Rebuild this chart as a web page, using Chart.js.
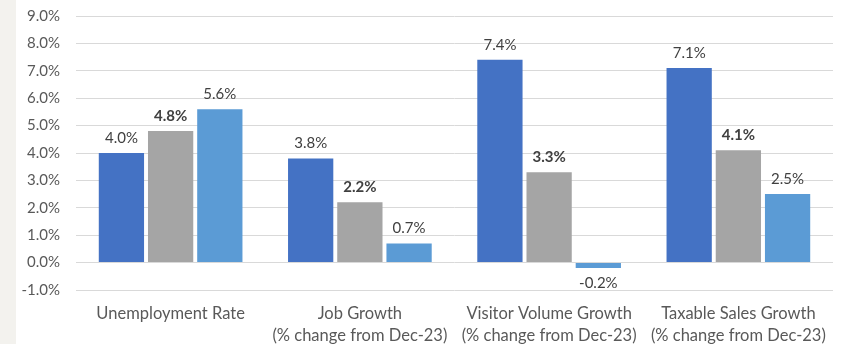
<!DOCTYPE html>
<html>
<head>
<meta charset="utf-8">
<script src="https://cdn.jsdelivr.net/npm/chart.js@4/dist/chart.umd.min.js"></script>
<style>
    body{ margin:0; background:#fff; }
    .wrap{ position:relative; width:842px; height:344px; }
    .strip{ position:absolute; left:0; top:0; width:16px; height:344px; background:#F3F2EE; }
    canvas{ position:absolute; left:0; top:0; }
</style>
</head>
<body>
<div class="wrap">
    <div class="strip"></div>
    <canvas id="myChart" width="842" height="344"></canvas>
</div>
<script>
const categories = [
    ["Unemployment Rate"],
    ["Job Growth", "(% change from Dec-23)"],
    ["Visitor Volume Growth", "(% change from Dec-23)"],
    ["Taxable Sales Growth", "(% change from Dec-23)"]
];
const seriesA = [4.0, 3.8, 7.4, 7.1];
const seriesB = [4.8, 2.2, 3.3, 4.1];
const seriesC = [5.6, 0.7, -0.2, 2.5];
const yMin = -1, yMax = 9, yStep = 1;

const fontName = "Lato, 'Open Sans', sans-serif";

// draws the value labels above (or below) each bar
const barLabels = {
    id: 'barLabels',
    afterDatasetsDraw(chart){
        const ctx = chart.ctx;
        chart.data.datasets.forEach((ds, i) => {
            const meta = chart.getDatasetMeta(i);
            meta.data.forEach((bar, j) => {
                const v = ds.data[j];
                ctx.save();
                ctx.font = (ds.boldLabel ? 'bold ' : '') + '15px ' + fontName;
                ctx.fillStyle = '#404040';
                ctx.textAlign = 'center';
                ctx.textBaseline = 'middle';
                const y = v >= 0 ? bar.y - 15 : bar.y + 15;
                ctx.fillText(v.toFixed(1) + '%', bar.x, y);
                ctx.restore();
            });
        });
    }
};

const ctx = document.getElementById('myChart');
new Chart(ctx, {
    type: 'bar',
    data: {
        labels: categories,
        datasets: [{
            data: seriesA,
            backgroundColor: '#4472C4',
            categoryPercentage: 0.78,
            barPercentage: 0.92
        },
        {
            data: seriesB,
            backgroundColor: '#A5A5A5',
            boldLabel: true,
            categoryPercentage: 0.78,
            barPercentage: 0.92
        },
        {
            data: seriesC,
            backgroundColor: '#5B9BD5',
            categoryPercentage: 0.78,
            barPercentage: 0.92
        }]
    },
    plugins: [barLabels],
    options: {
        responsive: false,
        animation: false,
        layout: { padding: { top: 16, right: 9, left: 0, bottom: 0 } },
        plugins: {
            legend: { display: false },
            tooltip: { enabled: false }
        },
        scales: {
            x: {
                grid: { display: false, drawTicks: false },
                border: { display: false },
                ticks: {
                    color: '#595959',
                    font: { family: fontName, size: 16.5, lineHeight: 1.3 },
                    padding: 13,
                    maxRotation: 0,
                    autoSkip: false
                },
                afterFit(scale){ scale.height = 54; }
            },
            y: {
                min: yMin,
                max: yMax,
                grid: { color: '#D9D9D9', lineWidth: 1, drawTicks: false },
                border: { display: false },
                ticks: {
                    stepSize: yStep,
                    color: '#595959',
                    font: { family: fontName, size: 15 },
                    padding: 16,
                    callback: (v) => v.toFixed(1) + '%'
                },
                afterFit(scale){
                    scale.width = 76;
                    scale.paddingTop = 0;
                    scale.paddingBottom = 0;
                }
            }
        }
    }
});
</script>
</body>
</html>
